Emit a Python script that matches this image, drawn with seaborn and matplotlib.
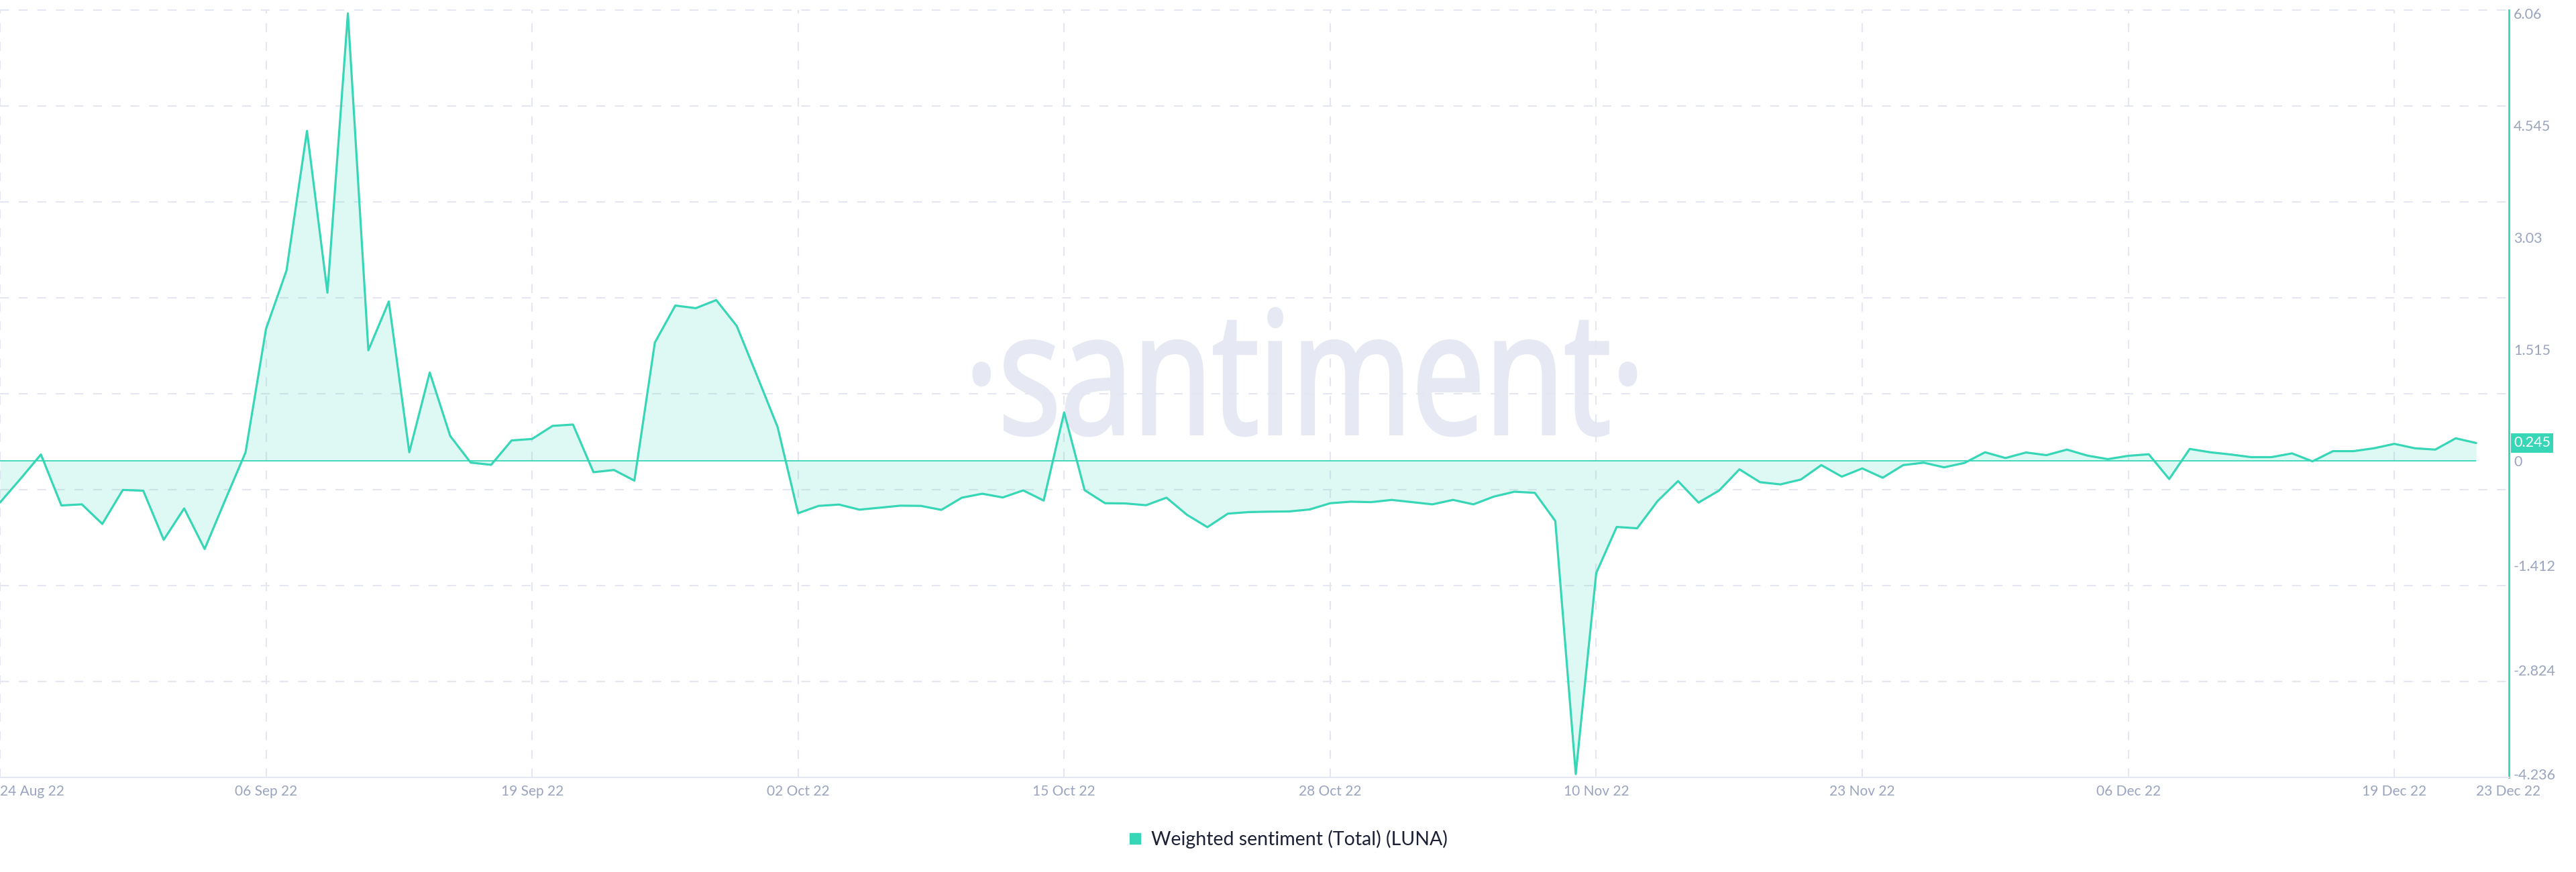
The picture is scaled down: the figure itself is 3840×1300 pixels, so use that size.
import matplotlib
matplotlib.use("Agg")
import matplotlib.pyplot as plt
import seaborn as sns
import numpy as np
import pandas as pd
from matplotlib.lines import Line2D
from matplotlib.textpath import TextPath
from matplotlib.patches import PathPatch
from matplotlib.font_manager import FontProperties
from matplotlib.transforms import Affine2D, IdentityTransform, ScaledTranslation, blended_transform_factory

# daily weighted sentiment, 24 Aug 22 .. 23 Dec 22
start_date = "2022-08-24"
end_date = "2022-12-23"
sentiment = [
    # Aug 24-31
    -0.56, -0.24, 0.09, -0.60, -0.585, -0.85, -0.39, -0.40,
    # Sep
    -1.065, -0.64, -1.19, -0.53, 0.12, 1.79, 2.58, 4.47, 2.28, 6.06,
    1.50, 2.16, 0.12, 1.20, 0.34, -0.02, -0.05, 0.28, 0.30, 0.477,
    0.495, -0.15, -0.12, -0.264, 1.605, 2.106, 2.07, 2.18, 1.83, 1.15,
    # Oct
    0.46, -0.705, -0.606, -0.588, -0.657, -0.63, -0.603, -0.606, -0.66, -0.495,
    -0.441, -0.492, -0.396, -0.534, 0.66, -0.393, -0.57, -0.573, -0.597, -0.495,
    -0.726, -0.894, -0.711, -0.69, -0.684, -0.681, -0.654, -0.57, -0.549, -0.555,
    -0.525,
    # Nov
    -0.555, -0.585, -0.525, -0.585, -0.48, -0.414, -0.429, -0.81, -4.236, -1.515,
    -0.891, -0.909, -0.54, -0.27, -0.561, -0.399, -0.111, -0.285, -0.315, -0.249,
    -0.054, -0.21, -0.099, -0.225, -0.054, -0.021, -0.084, -0.024, 0.12, 0.042,
    # Dec 1-23
    0.117, 0.081, 0.156, 0.075, 0.027, 0.072, 0.093, -0.243, 0.165, 0.12,
    0.09, 0.054, 0.054, 0.105, -0.003, 0.135, 0.135, 0.174, 0.234, 0.174,
    0.156, 0.309, 0.245,
]
ytick_values = [6.06, 4.545, 3.03, 1.515, 0, -1.412, -2.824, -4.236]
ytick_labels = ["6.06", "4.545", "3.03", "1.515", "0", "-1.412", "-2.824", "-4.236"]
last_label = "0.245"
series_name = "Weighted sentiment (Total) (LUNA)"

dates = pd.date_range(start_date, end_date, freq="D")
df = pd.DataFrame({"date": dates, "value": sentiment})

GREEN = "#37d6b6"
GRID = "#e4e7f1"
TICK = "#9aa4be"
WATERMARK = "#e6e9f3"

sns.set_style("white")
plt.rcParams["font.family"] = ["Lato", "DejaVu Sans"]
plt.rcParams["lines.scale_dashes"] = False

fig = plt.figure(figsize=(38.4, 13), dpi=100)
ax = fig.add_axes([0.0, 0.10846, 0.97396, 0.88])

# watermark
tp = TextPath((0, 0), "\u00b7santiment\u00b7", size=100, prop=FontProperties(family="Open Sans"))
ext = tp.get_extents()
wm_box = (1452, 651, 2438, 840)  # pixel box, origin bottom-left
wm_tr = (Affine2D().translate(-ext.x0, -ext.y0)
         .scale((wm_box[2] - wm_box[0]) / ext.width, (wm_box[3] - wm_box[1]) / ext.height)
         .translate(wm_box[0], wm_box[1]))
wm = PathPatch(wm_tr.transform_path(tp), facecolor=WATERMARK, edgecolor=WATERMARK, lw=3.5,
               transform=IdentityTransform(), zorder=0.3)
ax.add_artist(wm)

ylo, yhi = -4.281, 6.105
x_right = dates[0] + pd.Timedelta(days=122.6)

# grid: 8 equal bands vertically, 13-day steps horizontally
for gy in np.linspace(ylo, yhi, 9)[1:]:
    ax.axhline(gy, color=GRID, lw=1.5, dashes=(9.5, 10.5), zorder=0.8, clip_on=False)
grid_dates = pd.date_range(start_date, end_date, freq="13D")
for gd in grid_dates:
    ax.axvline(gd, color=GRID, lw=1.5, dashes=(9.5, 10.5), zorder=0.8, clip_on=False)

ax.fill_between(df["date"], df["value"], 0, color=GREEN, alpha=0.16, lw=0, zorder=1)
ax.hlines(0, df["date"].iloc[0], df["date"].iloc[-1], color=GREEN, lw=1.3, zorder=2)
sns.lineplot(data=df, x="date", y="value", ax=ax, color=GREEN, linewidth=2.3, zorder=3)

ax.set_xlim(dates[0], x_right)
ax.set_ylim(ylo, yhi)
ax.set_xlabel("")
ax.set_ylabel("")

tick_dates = list(grid_dates) + [dates[-1]]
ax.set_xticks(tick_dates)
ax.set_xticklabels([d.strftime("%d %b %y") for d in tick_dates])
xl = ax.get_xticklabels()
xl[0].set_ha("left")
xl[-1].set_ha("left")

ax.yaxis.tick_right()
ax.set_yticks(ytick_values)
ax.set_yticklabels(ytick_labels)
ax.tick_params(axis="x", length=0, pad=8, labelsize=15, colors=TICK)
ax.tick_params(axis="y", length=0, pad=5, labelsize=15.5, colors=TICK)

for s in ["left", "top"]:
    ax.spines[s].set_visible(False)
ax.spines["right"].set_color(GREEN)
ax.spines["right"].set_linewidth(2)
ax.spines["bottom"].set_color(GRID)
ax.spines["bottom"].set_linewidth(1.5)

# last value badge on the axis
badge_tr = blended_transform_factory(ax.transAxes, ax.transData) + ScaledTranslation(0.07, 0, fig.dpi_scale_trans)
ax.text(1.0, sentiment[-1], last_label, transform=badge_tr, ha="left", va="center",
        fontsize=15.5, color="white", zorder=5,
        bbox=dict(boxstyle="square,pad=0.2", fc=GREEN, ec="none"))

handle = Line2D([], [], marker="s", ls="", color=GREEN, markersize=12)
leg = fig.legend(handles=[handle], labels=[series_name], loc="center",
                 bbox_to_anchor=(0.4995, 0.0377), frameon=False, fontsize=20.5,
                 handletextpad=0.35, handlelength=1.0)
for t in leg.get_texts():
    t.set_color("#1d2135")

fig.savefig("out.png", dpi=100, facecolor="white")
